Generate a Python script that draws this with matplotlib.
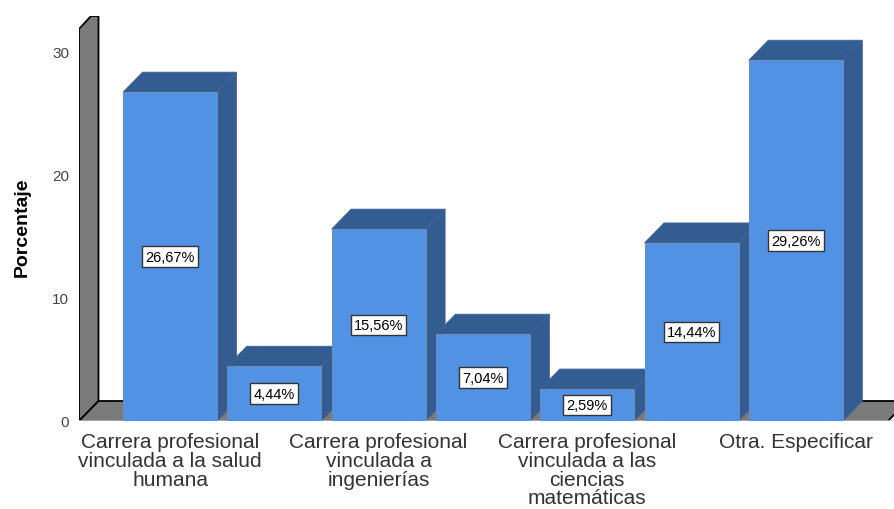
import matplotlib
matplotlib.use("Agg")
import matplotlib.pyplot as plt
from matplotlib.patches import Polygon, Rectangle

plt.rcParams['font.family'] = ['Liberation Sans', 'DejaVu Sans']

# ---------------- DATA ----------------
values = [26.67, 4.44, 15.56, 7.04, 2.59, 14.44, 29.26]
value_labels = ["26,67%", "4,44%", "15,56%", "7,04%", "2,59%", "14,44%", "29,26%"]
cat_positions = [0, 2, 4, 6]
categories = [
    "Carrera profesional\nvinculada a la salud\nhumana",
    "Carrera profesional\nvinculada a\ningenierías",
    "Carrera profesional\nvinculada a las\nciencias\nmatemáticas",
    "Otra. Especificar",
]
y_ticks = [0, 10, 20, 30]

# ---------------- STYLE ----------------
W, H = 894, 510
BASE_PX = 422
TOP_PX = 17
LEFT_PX = 79
PX_PER_CAT = 104.3
PX_PER_PCT = 12.33
FIRST_CENTER_PX = 170

bar_w = 94 / PX_PER_CAT
dx = 19.5 / PX_PER_CAT   # 3d depth
dy = 20 / PX_PER_PCT

FRONT = "#5292e4"
DARK = "#335c91"
GREY = "#7a7a7a"

fig = plt.figure(figsize=(W / 100, H / 100), dpi=100)
ax = fig.add_axes([LEFT_PX / W, 1 - BASE_PX / H, 1 - LEFT_PX / W, (BASE_PX - TOP_PX) / H])
x_min = (LEFT_PX - FIRST_CENTER_PX) / PX_PER_CAT
x_max = (W - FIRST_CENTER_PX) / PX_PER_CAT
y_max = (BASE_PX - TOP_PX) / PX_PER_PCT
ax.set_xlim(x_min, x_max)
ax.set_ylim(0, y_max)
for s in ax.spines.values():
    s.set_visible(False)

# ---------------- WALL AND FLOOR ----------------
wall = Polygon([(x_min, 0), (x_min + dx, dy), (x_min + dx, y_max), (x_min + 12 / PX_PER_CAT, y_max),
                (x_min, y_max - 13 / PX_PER_PCT)],
               facecolor=GREY, edgecolor="black", lw=1.3, zorder=1)
ax.add_patch(wall)
floor_right = x_max - 6 / PX_PER_CAT
floor = Polygon([(x_min, 0), (x_min + dx, dy), (x_max + 0.2, dy), (floor_right + dx, dy),
                 (floor_right, 0)],
                facecolor=GREY, edgecolor="black", lw=1.3, zorder=1)
ax.add_patch(floor)
ax.axhline(0, color="#c4c4c4", lw=1.2, zorder=1)

# ---------------- BARS ----------------
for i, v in enumerate(values):
    l = i - bar_w / 2
    r = i + bar_w / 2
    z = 2 + i
    top = Polygon([(l, v), (l + dx, v + dy), (r + dx, v + dy), (r, v)],
                  facecolor=DARK, edgecolor="#3f659a", lw=0.6, zorder=z)
    side = Polygon([(r, 0), (r + dx, dy), (r + dx, v + dy), (r, v)],
                   facecolor=DARK, edgecolor="#3f659a", lw=0.6, zorder=z)
    front = Rectangle((l, 0), bar_w, v, facecolor=FRONT, edgecolor="#6f8fb8", lw=0.7, zorder=z)
    ax.add_patch(top)
    ax.add_patch(side)
    ax.add_patch(front)
    ax.text(i, v / 2, value_labels[i], ha="center", va="center", fontsize=10.5, color="black", zorder=20,
            bbox=dict(boxstyle="square,pad=0.22", facecolor="white", edgecolor="#333333", lw=1))

# ---------------- AXES TEXT ----------------
ax.set_yticks(y_ticks)
ax.set_yticklabels([str(t) for t in y_ticks], fontsize=11, color="#444444")
ax.tick_params(axis="y", length=0, pad=7)
ax.set_xticks(cat_positions)
ax.set_xticklabels(categories, fontsize=15, color="#333333", linespacing=0.98)
ax.tick_params(axis="x", length=0, pad=8)
fig.text(22 / W, 1 - 227 / H, "Porcentaje", rotation=90, ha="center", va="center",
         fontsize=14, fontweight="bold", color="black")

fig.savefig("out.png", dpi=100)
